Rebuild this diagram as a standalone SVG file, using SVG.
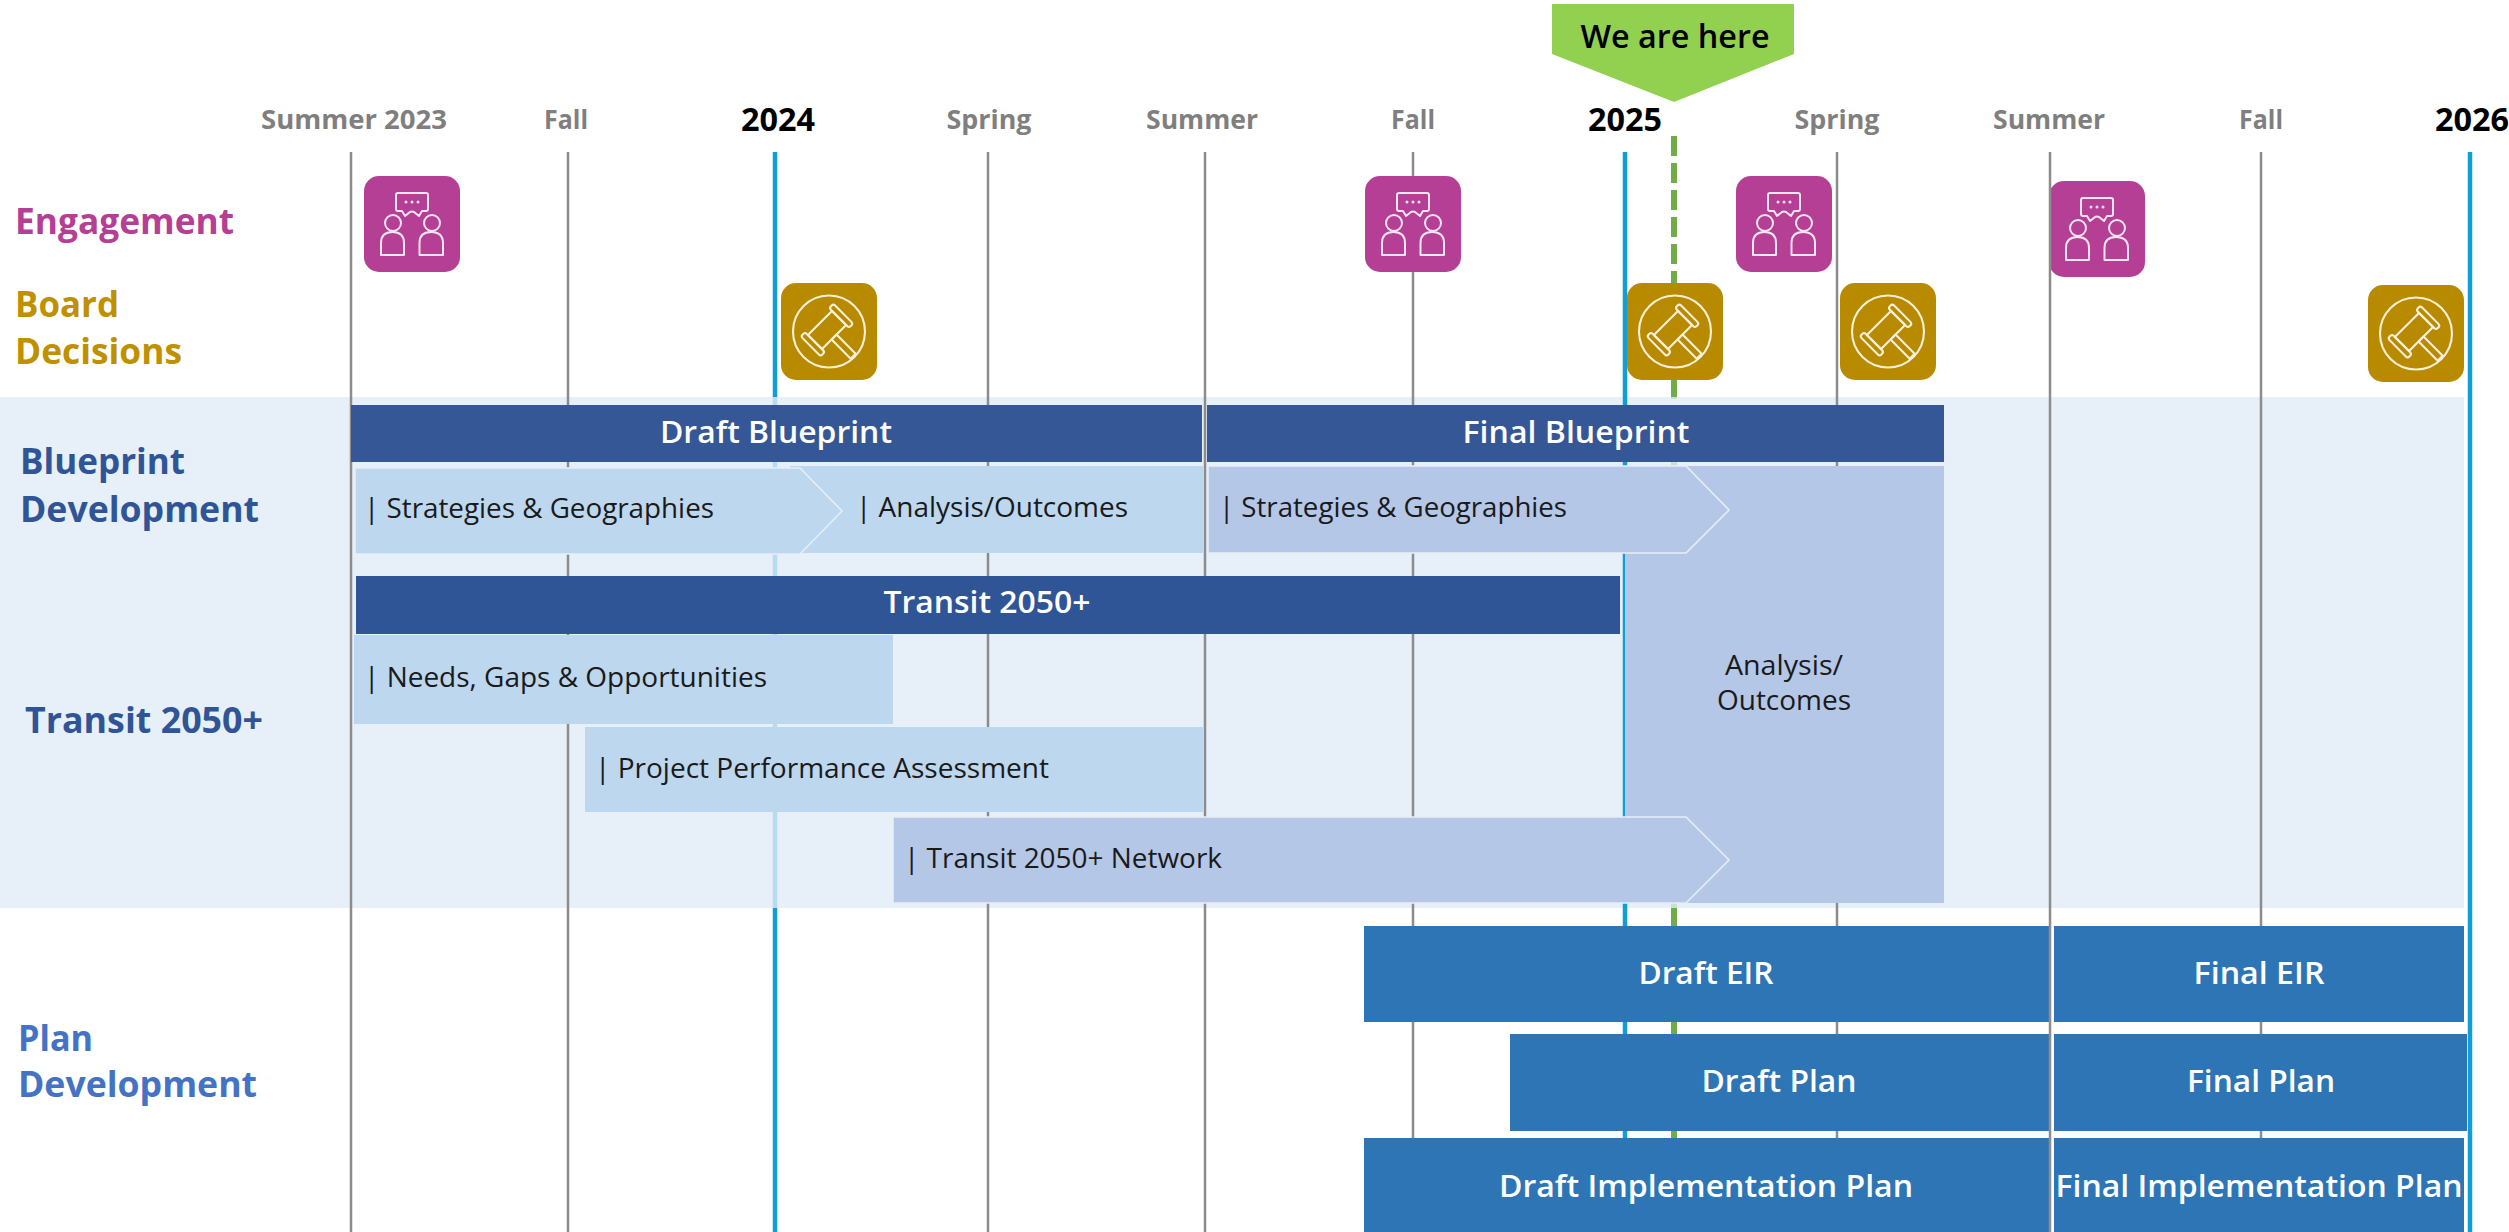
<svg xmlns="http://www.w3.org/2000/svg" width="2509" height="1232" viewBox="0 0 2509 1232">
<style>
text{font-family:"Open Sans","Liberation Sans",sans-serif}
.season{font-size:27px;font-weight:700;fill:#7f7f7f;text-anchor:middle}
.year{font-size:33px;font-weight:700;fill:#000;text-anchor:middle}
.lane{font-size:35px;font-weight:700}
.bar-t{font-size:31px;font-weight:600;fill:#fff;text-anchor:middle}
.sub{font-size:28px;font-weight:400;fill:#1a1a1a}
.grid{stroke:#8c8c8c;stroke-width:2.5;fill:none}
.yr{stroke:#0f9fd6;stroke-width:4.5;fill:none}
.now{stroke:#70ad47;stroke-width:6;fill:none}
.dark1{fill:#355795}
.dark2{fill:#2f5597}
.lt{fill:#bdd7ee}
.md{fill:#b4c7e7}
.pl{fill:#2e75b6}
.chev{stroke:#e6eef8;stroke-width:1.6}
.ico{fill:none;stroke:#f6e6f1;stroke-width:2;stroke-linejoin:round}
.gav{fill:none;stroke:#f7efd8;stroke-width:2.1;stroke-linejoin:round}
</style>
<defs>
<g id="engage">
<rect width="96" height="96" rx="15" fill="#b43f94"/>
<path class="ico" d="M34 17H62Q64 17 64 19V33Q64 35 62 35H58L55 40L50 36Q48 35 46 36L41 40L38 35H34Q32 35 32 33V19Q32 17 34 17Z"/>
<circle cx="42" cy="26" r="1.5" fill="#f6e6f1"/><circle cx="48" cy="26" r="1.5" fill="#f6e6f1"/><circle cx="54" cy="26" r="1.5" fill="#f6e6f1"/>
<circle class="ico" cx="29" cy="47" r="8"/><circle class="ico" cx="68" cy="47" r="8"/>
<path class="ico" d="M17 79V67Q17 56 28.500 56Q40 56 40 67V79Z"/>
<path class="ico" d="M55.500 79V67Q55.500 56 67 56Q79 56 79 67V79Z"/>
</g>
<g id="gavel">
<rect width="96" height="97" rx="15" fill="#b88a00"/>
<circle class="gav" cx="48" cy="48.500" r="36"/>
<g transform="translate(46 47) rotate(-45)">
<rect class="gav" x="-17" y="-10" width="34" height="20"/>
<rect class="gav" x="-23" y="-14" width="6" height="28" rx="2.500"/>
<rect class="gav" x="17" y="-14" width="6" height="28" rx="2.500"/>
<rect class="gav" x="-3.500" y="10" width="7" height="27"/>
</g>
</g>
</defs>

<rect width="2509" height="1232" fill="#fff"/>

<g id="underlay-lines">
<line class="yr" x1="775" y1="152" x2="775" y2="1232"/>
<line class="now" x1="1674" y1="136" x2="1674" y2="410" stroke-dasharray="20 7"/>
<line class="now" x1="1674" y1="460" x2="1674" y2="470"/>
<line class="now" x1="1674" y1="900" x2="1674" y2="1232"/>
</g>

<rect id="band" x="0" y="397" width="2464" height="511" fill="#e1ebf6" fill-opacity="0.8"/>

<g id="connectors">
<line class="grid" x1="351" y1="152" x2="351" y2="1232"/>
<line class="grid" x1="568" y1="152" x2="568" y2="1232"/>
<line class="grid" x1="988" y1="152" x2="988" y2="1232"/>
<line class="grid" x1="1205" y1="152" x2="1205" y2="1232"/>
<line class="grid" x1="1413" y1="152" x2="1413" y2="1232"/>
<line class="grid" x1="1837" y1="152" x2="1837" y2="1232"/>
<line class="grid" x1="2261" y1="152" x2="2261" y2="1232"/>
<line class="yr" x1="1625" y1="152" x2="1625" y2="1232"/>
<line class="yr" x1="2470" y1="152" x2="2470" y2="1232"/>
</g>

<g id="timeline-labels">
<text class="season" x="354" y="129" textLength="186" lengthAdjust="spacingAndGlyphs">Summer 2023</text>
<text class="season" x="566" y="129" textLength="44" lengthAdjust="spacingAndGlyphs">Fall</text>
<text class="year" x="778" y="131" textLength="74" lengthAdjust="spacingAndGlyphs">2024</text>
<text class="season" x="989" y="129" textLength="85" lengthAdjust="spacingAndGlyphs">Spring</text>
<text class="season" x="1202" y="129" textLength="112" lengthAdjust="spacingAndGlyphs">Summer</text>
<text class="season" x="1413" y="129" textLength="44" lengthAdjust="spacingAndGlyphs">Fall</text>
<text class="year" x="1625" y="131" textLength="74" lengthAdjust="spacingAndGlyphs">2025</text>
<text class="season" x="1837" y="129" textLength="85" lengthAdjust="spacingAndGlyphs">Spring</text>
<text class="season" x="2049" y="129" textLength="112" lengthAdjust="spacingAndGlyphs">Summer</text>
<text class="season" x="2261" y="129" textLength="44" lengthAdjust="spacingAndGlyphs">Fall</text>
<text class="year" x="2472" y="131" textLength="74" lengthAdjust="spacingAndGlyphs">2026</text>
</g>

<g id="we-are-here">
<polygon points="1552,4 1794,4 1794,54 1674,102 1552,54" fill="#92d150"/>
<text x="1675" y="48" font-size="32" font-weight="600" fill="#000" text-anchor="middle" textLength="189" lengthAdjust="spacingAndGlyphs">We are here</text>
</g>

<g id="lane-labels">
<text class="lane" x="15" y="234" fill="#b43f94" textLength="219" lengthAdjust="spacingAndGlyphs">Engagement</text>
<text class="lane" x="15" y="317" fill="#bf9000" textLength="104" lengthAdjust="spacingAndGlyphs">Board</text>
<text class="lane" x="15" y="364" fill="#bf9000" textLength="167" lengthAdjust="spacingAndGlyphs">Decisions</text>
<text class="lane" x="20" y="474" fill="#2f5597" textLength="165" lengthAdjust="spacingAndGlyphs">Blueprint</text>
<text class="lane" x="20" y="522" fill="#2f5597" textLength="239" lengthAdjust="spacingAndGlyphs">Development</text>
<text class="lane" x="25" y="733" fill="#2f5597" textLength="238" lengthAdjust="spacingAndGlyphs">Transit 2050+</text>
<text class="lane" x="18" y="1051" fill="#4472c4" textLength="75" lengthAdjust="spacingAndGlyphs">Plan</text>
<text class="lane" x="18" y="1097" fill="#4472c4" textLength="239" lengthAdjust="spacingAndGlyphs">Development</text>
</g>

<g id="engagement-1"><use href="#engage" x="364" y="176"/></g>
<g id="engagement-2"><use href="#engage" x="1365" y="176"/></g>
<g id="engagement-3"><use href="#engage" x="1736" y="176"/></g>
<g id="engagement-4"><use href="#engage" x="2049" y="181"/></g>
<g id="board-1"><use href="#gavel" x="781" y="283"/></g>
<g id="board-2"><use href="#gavel" x="1627" y="283"/></g>
<g id="board-3"><use href="#gavel" x="1840" y="283"/></g>
<g id="board-4"><use href="#gavel" x="2368" y="285"/></g>

<g id="draft-blueprint">
<rect class="dark1" x="351" y="405" width="851" height="57"/>
<text class="bar-t" x="776" y="443" textLength="232" lengthAdjust="spacingAndGlyphs">Draft Blueprint</text>
</g>
<g id="final-blueprint">
<rect class="dark1" x="1207" y="405" width="737" height="57"/>
<text class="bar-t" x="1576" y="443" textLength="227" lengthAdjust="spacingAndGlyphs">Final Blueprint</text>
</g>
<g id="analysis-outcomes-1">
<rect class="lt" x="790" y="466" width="413" height="87"/>
<text class="sub" x="856" y="517" textLength="272" lengthAdjust="spacingAndGlyphs">| Analysis/Outcomes</text>
</g>
<g id="strategies-1">
<polygon class="lt chev" points="355,468 800,468 842,511 800,554 355,554"/>
<text class="sub" x="364" y="518" textLength="350" lengthAdjust="spacingAndGlyphs">| Strategies &amp; Geographies</text>
</g>
<g id="analysis-outcomes-2">
<rect class="md" x="1625" y="466" width="319" height="437"/>
<text class="sub" x="1784" y="675" text-anchor="middle" textLength="118" lengthAdjust="spacingAndGlyphs">Analysis/</text>
<text class="sub" x="1784" y="710" text-anchor="middle" textLength="134" lengthAdjust="spacingAndGlyphs">Outcomes</text>
</g>
<g id="strategies-2">
<polygon class="md chev" points="1208,466 1686,466 1729,510 1686,553 1208,553"/>
<text class="sub" x="1219" y="517" textLength="348" lengthAdjust="spacingAndGlyphs">| Strategies &amp; Geographies</text>
</g>
<g id="transit-bar">
<rect class="dark2" x="356" y="576" width="1264" height="58"/>
<text class="bar-t" x="987" y="613" textLength="207" lengthAdjust="spacingAndGlyphs">Transit 2050+</text>
</g>
<g id="needs">
<rect class="lt" x="354" y="635" width="539" height="89"/>
<text class="sub" x="364" y="687" textLength="403" lengthAdjust="spacingAndGlyphs">| Needs, Gaps &amp; Opportunities</text>
</g>
<g id="performance">
<rect class="lt" x="585" y="727" width="618" height="85"/>
<text class="sub" x="595" y="778" textLength="454" lengthAdjust="spacingAndGlyphs">| Project Performance Assessment</text>
</g>
<g id="network">
<polygon class="md chev" points="893,817 1686,817 1729,860 1686,903 893,903"/>
<text class="sub" x="904" y="868" textLength="318" lengthAdjust="spacingAndGlyphs">| Transit 2050+ Network</text>
</g>

<g id="draft-eir"><rect class="pl" x="1364" y="926" width="685" height="96"/><text class="bar-t" x="1706" y="984" textLength="135" lengthAdjust="spacingAndGlyphs">Draft EIR</text></g>
<g id="final-eir"><rect class="pl" x="2054" y="926" width="410" height="96"/><text class="bar-t" x="2259" y="984" textLength="131" lengthAdjust="spacingAndGlyphs">Final EIR</text></g>
<g id="draft-plan"><rect class="pl" x="1510" y="1034" width="539" height="97"/><text class="bar-t" x="1779" y="1092" textLength="155" lengthAdjust="spacingAndGlyphs">Draft Plan</text></g>
<g id="final-plan"><rect class="pl" x="2054" y="1034" width="413" height="97"/><text class="bar-t" x="2261" y="1092" textLength="148" lengthAdjust="spacingAndGlyphs">Final Plan</text></g>
<g id="draft-impl"><rect class="pl" x="1364" y="1138" width="685" height="94"/><text class="bar-t" x="1706" y="1197" textLength="414" lengthAdjust="spacingAndGlyphs">Draft Implementation Plan</text></g>
<g id="final-impl"><rect class="pl" x="2054" y="1138" width="410" height="94"/><text class="bar-t" x="2259" y="1197" textLength="407" lengthAdjust="spacingAndGlyphs">Final Implementation Plan</text></g>

<line id="summer-line" class="grid" x1="2050" y1="152" x2="2050" y2="1232"/>
</svg>
